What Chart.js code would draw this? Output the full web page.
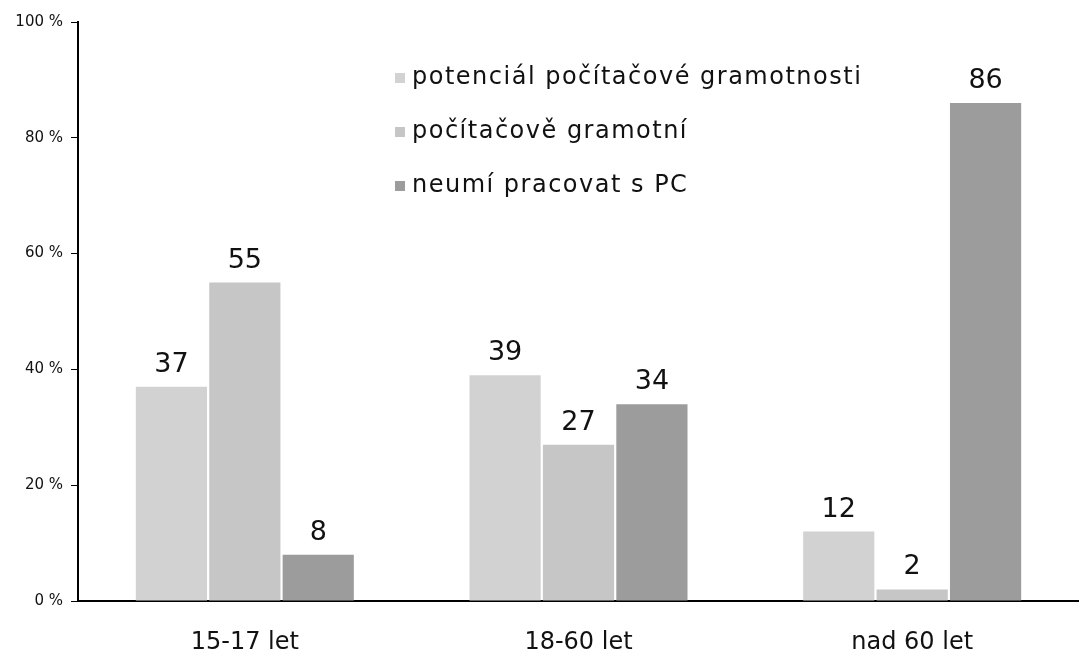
<!DOCTYPE html>
<html>
<head>
<meta charset="utf-8">
<script src="https://cdn.jsdelivr.net/npm/chart.js@4/dist/chart.umd.min.js"></script>
<style>
  html, body { margin: 0; padding: 0; background: #fff; }
  #chart { display: block; }
</style>
</head>
<body>
<canvas id="chart" width="1079" height="654"></canvas>
<script>
// Data
const categories = ['15-17 let', '18-60 let', 'nad 60 let'];
const seriesNames = ['potenciál počítačové gramotnosti', 'počítačově gramotní', 'neumí pracovat s PC'];
const potencial = [37, 39, 12];
const gramotni = [55, 27, 2];
const neumi = [8, 34, 86];
const yTicks = [0, 20, 40, 60, 80, 100];

const barColors = ['#d2d2d2', '#c6c6c6', '#9c9c9c'];
const fontFamily = '"DejaVu Sans", Verdana, sans-serif';

// value labels above bars
const valueLabels = {
    id: 'valueLabels',
    afterDatasetsDraw(chart) {
        const ctx = chart.ctx;
        ctx.save();
        ctx.font = '27px ' + fontFamily;
        ctx.fillStyle = '#111';
        ctx.textAlign = 'center';
        ctx.textBaseline = 'alphabetic';
        chart.data.datasets.forEach((ds, i) => {
            chart.getDatasetMeta(i).data.forEach((bar, j) => {
                ctx.fillText(ds.data[j], bar.x, bar.y - 15);
            });
        });
        ctx.restore();
    }
};

// legend drawn inside the plot, stacked vertically
const innerLegend = {
    id: 'innerLegend',
    afterDraw(chart) {
        const ctx = chart.ctx;
        ctx.save();
        ctx.font = '24px ' + fontFamily;
        ctx.letterSpacing = '1.5px';
        ctx.textBaseline = 'middle';
        chart.data.datasets.forEach((ds, i) => {
            const y = 78 + i * 54;
            ctx.fillStyle = ds.backgroundColor;
            ctx.fillRect(395, y - 5, 10, 10);
            ctx.fillStyle = '#111';
            ctx.fillText(ds.label, 412, y);
        });
        ctx.restore();
    }
};

const ctx = document.getElementById('chart').getContext('2d');
new Chart(ctx, {
    type: 'bar',
    data: {
        labels: categories,
        datasets: [
            { label: seriesNames[0], data: potencial, backgroundColor: barColors[0] },
            { label: seriesNames[1], data: gramotni, backgroundColor: barColors[1] },
            { label: seriesNames[2], data: neumi, backgroundColor: barColors[2] }
        ]
    },
    options: {
        responsive: false,
        animation: false,
        categoryPercentage: 0.66,
        barPercentage: 0.97,
        layout: { padding: { top: 22, right: -9, left: 4, bottom: 0 } },
        plugins: {
            legend: { display: false },
            tooltip: { enabled: false }
        },
        scales: {
            x: {
                grid: { display: false },
                border: { display: true, color: '#000', width: 2 },
                afterFit(axis) { axis.height = 53; },
                ticks: {
                    color: '#111',
                    padding: 19,
                    font: { family: fontFamily, size: 24 }
                }
            },
            y: {
                min: 0,
                max: 100,
                afterBuildTicks(axis) {
                    axis.ticks = yTicks.map(v => ({ value: v }));
                },
                afterFit(axis) { axis.width = 74; },
                grid: { drawOnChartArea: false, drawTicks: true, tickLength: 7, color: '#000', lineWidth: 1 },
                border: { display: true, color: '#000', width: 2 },
                ticks: {
                    color: '#111',
                    padding: 8,
                    font: { family: fontFamily, size: 15 },
                    callback: v => v + ' %'
                }
            }
        }
    },
    plugins: [valueLabels, innerLegend]
});
</script>
</body>
</html>
